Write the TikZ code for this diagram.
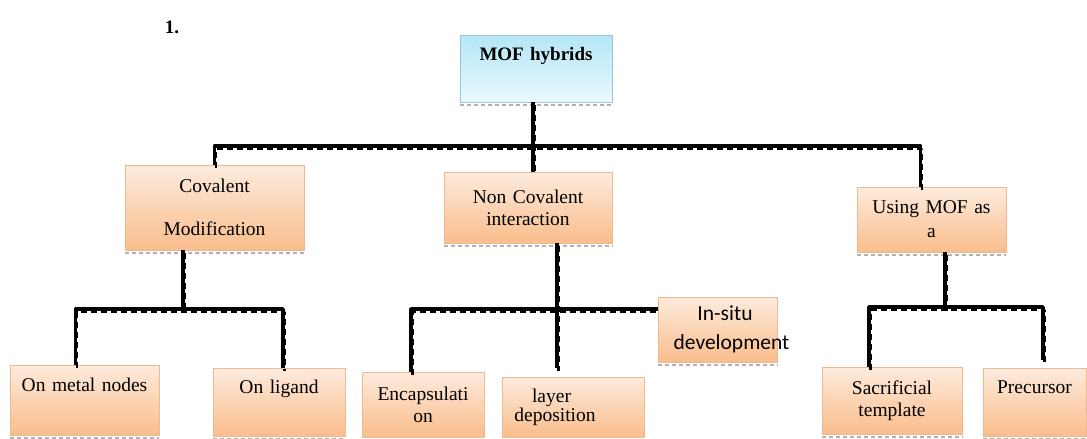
\documentclass[tikz,border=0pt]{standalone}
\usepackage{fontspec}
\setmainfont{Liberation Serif}
\newfontfamily\calibri{Carlito}
\usepackage{tikz,xcolor}
\usetikzlibrary{positioning}

\begin{document}
\begin{tikzpicture}[x=1pt,y=-1pt]

\definecolor{boxtop}{HTML}{FDEBDD}
\definecolor{boxbot}{HTML}{F9BD8C}
\definecolor{boxline}{HTML}{EFB98E}
\definecolor{mojtop}{HTML}{B4E6F6}
\definecolor{mojbot}{HTML}{EAF9FD}
\definecolor{mojline}{HTML}{9CC6D6}

\tikzstyle{box} = [rectangle, draw=boxline, top color=boxtop, bottom color=boxbot, inner sep=0pt, align=center, font=\fontsize{19.5}{24}\selectfont]
\tikzstyle{root} = [box, draw=mojline, top color=mojtop, bottom color=mojbot, font=\fontsize{19}{24}\selectfont\bfseries]
\tikzstyle{conn} = [line width=3.5pt, black, line join=round, postaction={draw, transform canvas={shift={(1.5pt,-3pt)}}, line width=2.5pt, dash pattern=on 6pt off 4pt}]
\tikzstyle{shade} = [gray!60, line width=1.5pt, dash pattern=on 4pt off 3pt]

\useasboundingbox (0,0) rectangle (1087,439);

\node[font=\fontsize{19}{24}\selectfont\bfseries] (num) at (172,27) {1.};

\node[root, text width=152pt, minimum height=67pt] (mof) at (536,68.5) {MOF hybrids\\[6pt]\mbox{}};

\node[box, text width=179pt, minimum height=85pt] (cov) at (214.5,207.5) {Covalent\\[19pt]Modification};
\node[box, text width=168pt, minimum height=71pt] (nc) at (528,207.5) {Non Covalent\\[-2pt]interaction};
\node[box, text width=149pt, minimum height=65pt] (use) at (931.5,219.5) {Using MOF as\\[0pt]a};

\node[box, text width=149pt, minimum height=70pt] (metal) at (84.5,400) {On metal nodes\\[6pt]\mbox{}};
\node[box, text width=132pt, minimum height=68pt] (lig) at (279,402) {On ligand\\[6pt]\mbox{}};
\node[box, text width=122pt, minimum height=65pt] (enc) at (423,404.5) {Encapsulati\\[-2pt]on};
\node[box, text width=142pt, minimum height=60pt] (lay) at (573,407) {\hspace*{-43pt}layer\\[-5pt]\hspace*{-36pt}deposition};
\node[box, text width=119pt, minimum height=65pt, font=\fontsize{21.5}{24}\calibri] (ins) at (717.5,329.5) {\hspace*{15pt}In-situ\\[5pt]\hspace*{28pt}\makebox[0pt]{development}};
\node[box, text width=140pt, minimum height=67pt] (sac) at (892,400.5) {Sacrificial\\[-2pt]template};
\node[box, text width=103pt, minimum height=68pt] (pre) at (1034.5,402) {Precursor\\[6pt]\mbox{}};

\foreach \n in {mof,cov,nc,use,metal,lig,enc,lay,ins,sac,pre}
  \draw[shade] ([yshift=-3pt]\n.south west) -- ([yshift=-3pt]\n.south east);

% first level
\coordinate (b1) at (533,146);
\draw[conn] (mof.south -| b1) -- (b1 |- nc.north);
\draw[conn] (cov.north) |- (b1) -| ([xshift=-11pt]use.north);

% covalent branch
\coordinate (b2) at (183,309);
\draw[conn] (cov.south -| b2) -- (b2);
\draw[conn] ([xshift=-9pt]metal.north) |- (b2) -| ([xshift=4pt]lig.north);

% non covalent branch
\coordinate (b3) at (557,309);
\coordinate (b3e) at (557,368);
\draw[conn] (nc.south -| b3) -- (b3e);
\draw[conn] ([xshift=-12pt]enc.north) |- (ins.west |- b3);

% MOF as template branch
\coordinate (b4) at (945,307);
\coordinate (b4e) at (1043,360);
\draw[conn] (use.south -| b4) -- (b4);
\draw[conn] ([xshift=-23pt]sac.north) |- (b4) -| (b4e);

\end{tikzpicture}
\end{document}
